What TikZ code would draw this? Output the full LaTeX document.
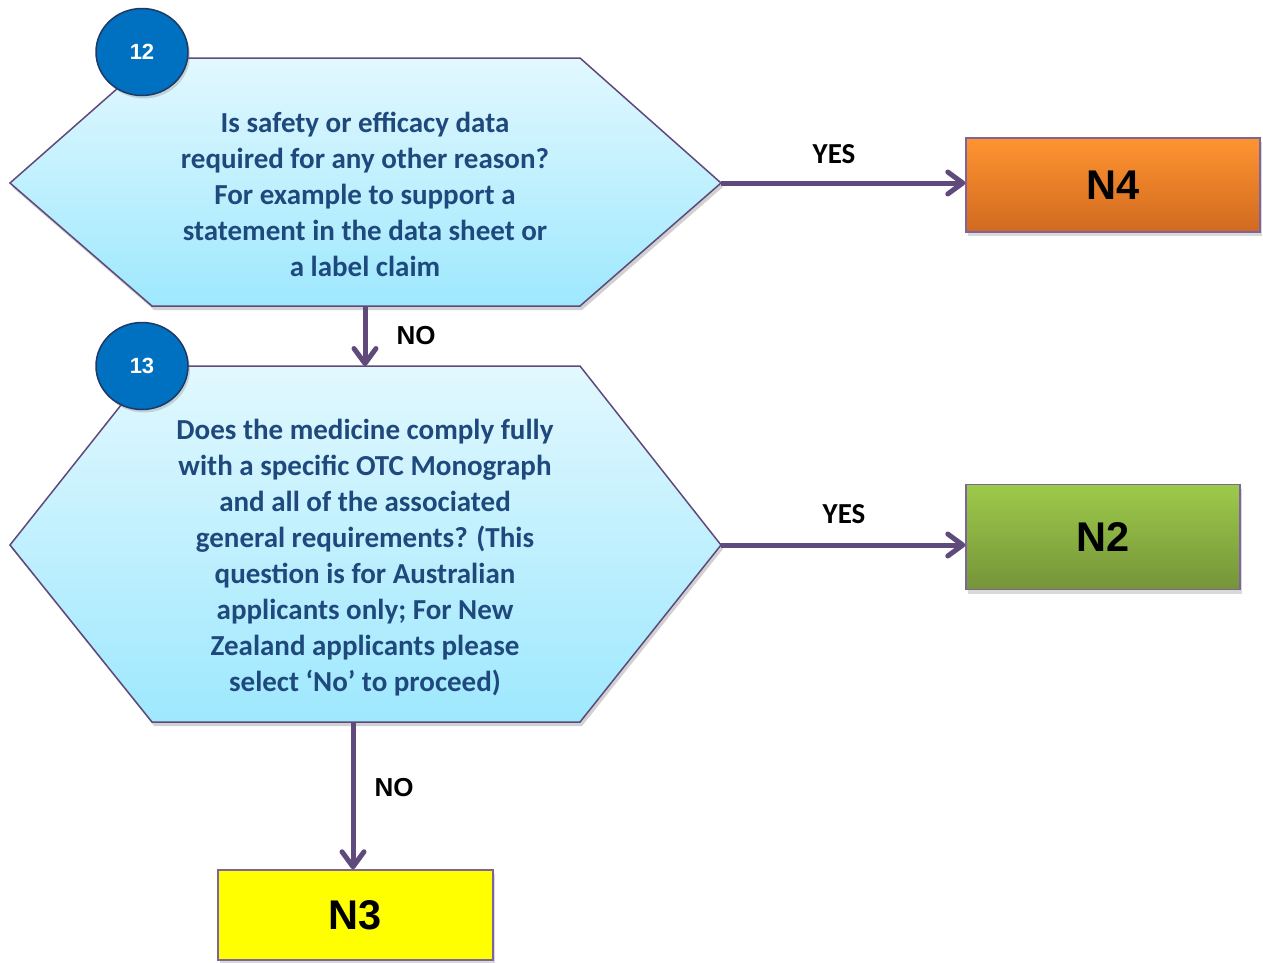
\documentclass[tikz,border=0pt]{standalone}
\usepackage{fontspec}
\setmainfont{Carlito}
\newfontfamily\arialfont{Liberation Sans}
\usetikzlibrary{arrows.meta,shapes.geometric,shadows}

\definecolor{qtext}{HTML}{1F497D}
\definecolor{flow}{HTML}{604A7B}
\definecolor{hexedge}{HTML}{5F497A}
\definecolor{hextop}{HTML}{E2F8FE}
\definecolor{hexbot}{HTML}{9EE8FE}
\definecolor{badge}{HTML}{0070C0}
\definecolor{badgeedge}{HTML}{1F3864}
\definecolor{boxedge}{HTML}{7E649E}
\definecolor{orangetop}{RGB}{255,148,48}
\definecolor{orangebot}{RGB}{208,106,32}
\definecolor{greentop}{RGB}{157,202,74}
\definecolor{greenbot}{RGB}{117,148,57}
\definecolor{yellowfill}{RGB}{255,255,0}

\tikzset{
  hexshape/.style={draw=hexedge, line width=1.5pt, top color=hextop, bottom color=hexbot},
  hexshadow/.style={fill=black, opacity=0.18},
  question/.style={font=\fontsize{29}{36}\selectfont\bfseries, text=qtext, align=center},
  badgenode/.style={ellipse, fill=badge, draw=badgeedge, line width=1.5pt,
    minimum width=92pt, minimum height=87pt, inner sep=0pt,
    text=white, font=\arialfont\fontsize{22}{26}\selectfont\bfseries,
    drop shadow={opacity=0.3, shadow xshift=2pt, shadow yshift=-3pt}},
  result/.style={draw=boxedge, line width=1.5pt, inner sep=0pt,
    font=\arialfont\fontsize{41.5}{48}\selectfont\bfseries, text=black,
    drop shadow={opacity=0.3, shadow xshift=2pt, shadow yshift=-4pt}},
  flowarrow/.style={draw=flow, line width=5pt,
    -{Straight Barb[length=15pt, width=22pt, round]}},
  yeslabel/.style={font=\fontsize{29}{32}\selectfont\bfseries, text=black},
  nolabel/.style={font=\arialfont\fontsize{26}{30}\selectfont\bfseries, text=black},
}

\begin{document}
\begin{tikzpicture}[x=1pt, y=-1pt]
\useasboundingbox (0,0) rectangle (1263,962);

% question 12 hexagon
\fill[hexshadow] (12,187) -- (154,62) -- (582,62) -- (723,187) -- (582,310) -- (154,310) -- cycle;
\path[hexshape] (10,183) -- (152,58) -- (580,58) -- (721,183) -- (580,306) -- (152,306) -- cycle;
\coordinate (q1r) at (721,183);
\coordinate (q1b) at (365,306);
\node[question] (q1) at (365,194)
  {Is safety or efficacy data\\required for any other reason?\\For example to support a\\statement in the data sheet or\\a label claim};

% question 13 hexagon
\fill[hexshadow] (12,549) -- (154,370) -- (582,370) -- (723,549) -- (582,726) -- (154,726) -- cycle;
\path[hexshape] (10,545) -- (152,366) -- (580,366) -- (721,545) -- (580,722) -- (152,722) -- cycle;
\coordinate (q2r) at (721,545);
\coordinate (q2t) at (365,366);
\coordinate (q2b) at (353,722);
\node[question] (q2) at (365,558)
  {Does the medicine comply fully\\with a specific OTC Monograph\\and all of the associated\\general requirements? (This\\question is for Australian\\applicants only; For New\\Zealand applicants please\\select ‘No’ to proceed)};

% step badges
\node[badgenode] (b12) at (142,52) {12};
\node[badgenode] (b13) at (142,366) {13};

% outcomes
\node[result, minimum width=294pt, minimum height=94pt, top color=orangetop, bottom color=orangebot]
      (n4) at (1113,185) {N4};
\node[result, minimum width=274pt, minimum height=105pt, top color=greentop, bottom color=greenbot]
      (n2) at (1103,537) {N2};
\node[result, minimum width=275pt, minimum height=90pt, fill=yellowfill]
      (n3) at (355.5,915) {N3};

% connectors
\draw[flowarrow] (q1r) -- (n4.west |- q1r);
\draw[flowarrow] (q2r) -- (n2.west |- q2r);
\draw[flowarrow] (q1b) -- (q2t);
\draw[flowarrow] (q2b) -- (n3.north -| q2b);

% branch labels
\node[yeslabel] (yes1) at (834,154) {YES};
\node[yeslabel] (yes2) at (844,514) {YES};
\node[nolabel] (no1) at (416,336) {NO};
\node[nolabel] (no2) at (394,788) {NO};
\end{tikzpicture}
\end{document}
